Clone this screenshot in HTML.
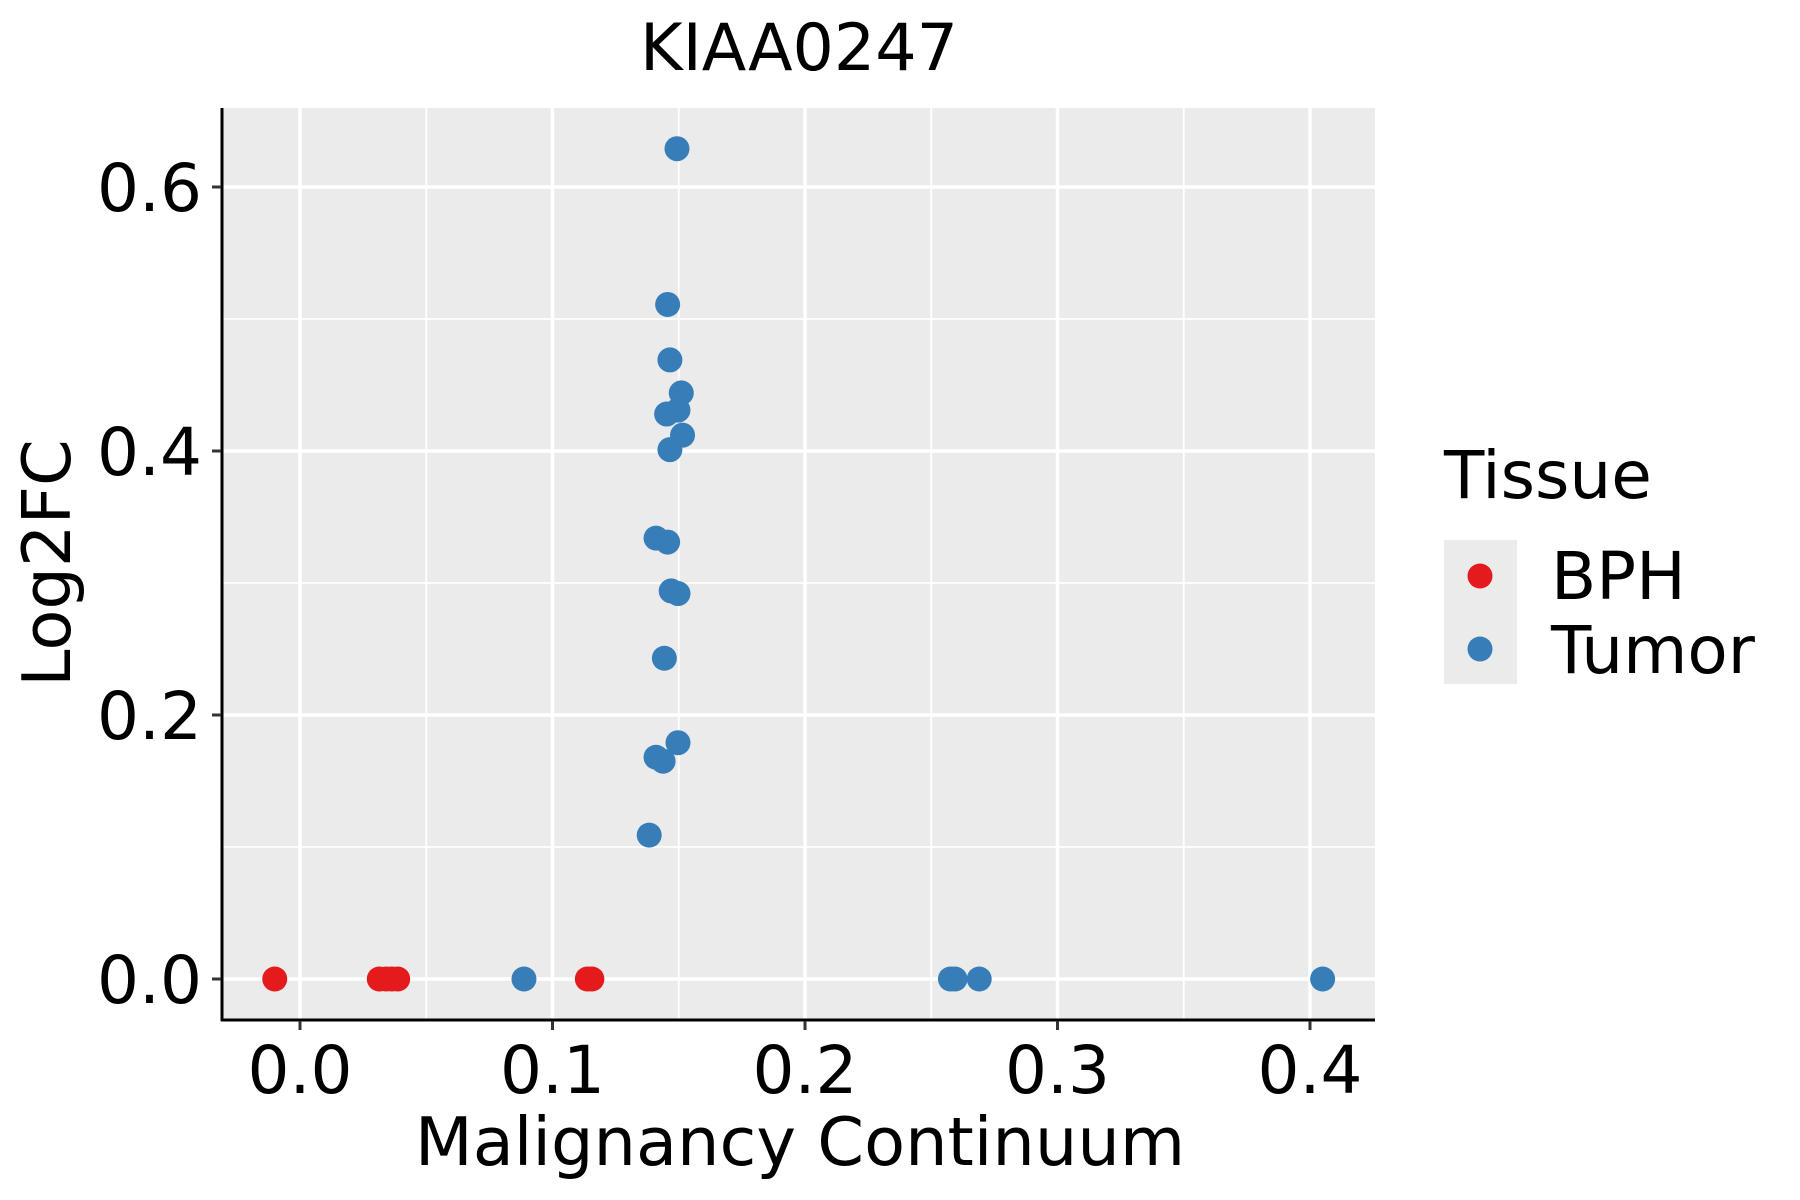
<!DOCTYPE html>
<html><head><meta charset="utf-8"><style>
body{margin:0;background:#fff}
svg{display:block;font-family:"DejaVu Sans","Liberation Sans",sans-serif}
</style></head><body>
<svg id="chart" width="1800" height="1200">
<text x="799" y="70" font-size="65" text-anchor="middle">KIAA0247</text>
<rect x="222" y="108" width="1153" height="912" fill="#ebebeb"/>
<g id="grid"></g>
<g id="pts"></g>
<line x1="222" y1="108" x2="222" y2="1021" stroke="#000" stroke-width="3"/>
<line x1="221" y1="1020" x2="1375" y2="1020" stroke="#000" stroke-width="3"/>
<g id="ticks"></g>
<text x="800" y="1165" font-size="67" text-anchor="middle">Malignancy Continuum</text>
<text transform="translate(70,563) rotate(-90)" font-size="67" text-anchor="middle">Log2FC</text>
<g>
<text x="1444" y="498" font-size="66">Tissue</text>
<rect x="1444" y="540" width="73" height="144" fill="#ebebeb"/>
<circle cx="1480" cy="576" r="12.5" fill="#e41a1c"/>
<circle cx="1480" cy="649" r="12.5" fill="#377eb8"/>
<text x="1551" y="599" font-size="66">BPH</text>
<text x="1551" y="673" font-size="66">Tumor</text>
</g>
</svg>
<script>
const xTicks=[0,0.1,0.2,0.3,0.4];
const xTickLabels=["0.0","0.1","0.2","0.3","0.4"];
const yTicks=[0,0.2,0.4,0.6];
const yTickLabels=["0.0","0.2","0.4","0.6"];
const bphX=[-0.010,0.0314,0.0341,0.0364,0.0387,0.1138,0.1156];
const bphY=[0,0,0,0,0,0,0];
const tumorX=[0.1493,0.1456,0.1465,0.151,0.1497,0.1452,0.1515,0.1465,0.141,0.1456,0.147,0.1497,0.1443,0.1497,0.141,0.1438,0.1383,0.0887,0.2576,0.2594,0.269,0.405];
const tumorY=[0.629,0.511,0.469,0.444,0.431,0.428,0.412,0.401,0.334,0.331,0.294,0.292,0.243,0.179,0.168,0.165,0.109,0,0,0,0,0];
const NS="http://www.w3.org/2000/svg";
const sx=v=>300+v*2525, sy=v=>979-v*1320;
const grid=document.getElementById('grid'), ticks=document.getElementById('ticks'), pts=document.getElementById('pts');
function mk(tag,attrs,parent){const e=document.createElementNS(NS,tag);for(const k in attrs)e.setAttribute(k,attrs[k]);parent.appendChild(e);return e;}
for(let i=0;i<xTicks.length;i++){
  const mx=sx(xTicks[i]+0.05);
  if(mx<1375){const m=mk('line',{x1:mx,x2:mx,y1:108,y2:1020,stroke:'#fff','stroke-width':1.8},grid);
  
  }
  const x=sx(xTicks[i]);
  const g=mk('line',{x1:x,x2:x,y1:108,y2:1020,stroke:'#fff','stroke-width':3.5},grid);
  
  
  const t=mk('line',{x1:x,x2:x,y1:1021,y2:1030,stroke:'#333','stroke-width':3},ticks);
  
  
  const l=mk('text',{x:x,y:1093,'font-size':66,'text-anchor':'middle',fill:'#000'},ticks);
  l.textContent=xTickLabels[i];
  
  
}
for(let i=0;i<yTicks.length;i++){
  const my=sy(yTicks[i]+0.1);
  if(my>108){const m=mk('line',{x1:222,x2:1375,y1:my,y2:my,stroke:'#fff','stroke-width':1.8},grid);
  
  }
  const y=sy(yTicks[i]);
  const g=mk('line',{x1:222,x2:1375,y1:y,y2:y,stroke:'#fff','stroke-width':3.5},grid);
  
  
  const t=mk('line',{x1:212,x2:221,y1:y,y2:y,stroke:'#333','stroke-width':3},ticks);
  
  
  const l=mk('text',{x:202,y:y+24,'font-size':66,'text-anchor':'end',fill:'#000'},ticks);
  l.textContent=yTickLabels[i];
  
  
}
for(let i=0;i<bphX.length;i++){
  const c=mk('circle',{cx:sx(bphX[i]),cy:sy(bphY[i]),r:12.5,fill:'#e41a1c'},pts);
  
  
}
for(let i=0;i<tumorX.length;i++){
  const c=mk('circle',{cx:sx(tumorX[i]),cy:sy(tumorY[i]),r:12.5,fill:'#377eb8'},pts);
  
  
}
</script>
</body></html>
